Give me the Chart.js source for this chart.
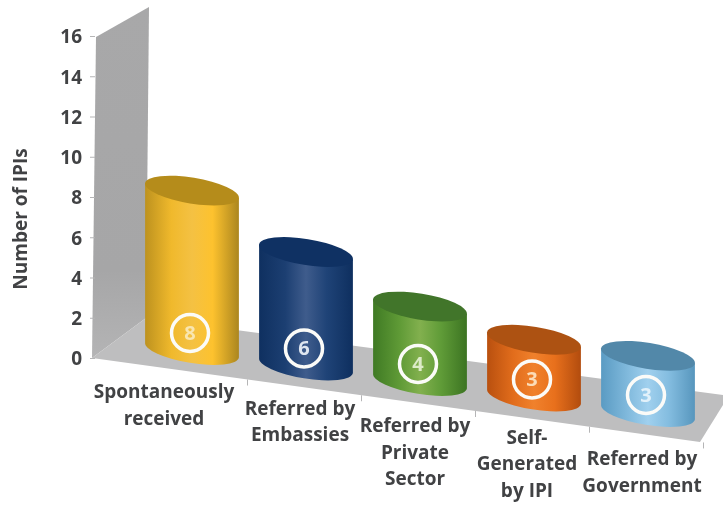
<!DOCTYPE html>
<html>
<head>
<meta charset="utf-8">
<title>Number of IPIs</title>
<script src="https://cdn.jsdelivr.net/npm/chart.js@4"></script>
<style>
  html, body { margin: 0; padding: 0; background: #fff; }
  canvas { display: block; }
</style>
</head>
<body>
<canvas id="chart" width="723" height="506"></canvas>
<script>
const categories = [
  ['Spontaneously', 'received'],
  ['Referred by', 'Embassies'],
  ['Referred by', 'Private', 'Sector'],
  ['Self-', 'Generated', 'by IPI'],
  ['Referred by', 'Government']
];
const ipiCounts = [8, 6, 4, 3, 3];
const axisTicks = [0, 2, 4, 6, 8, 10, 12, 14, 16];
const axisTitle = 'Number of IPIs';

// side gradient stops, lid colour and badge digit colour for each cylinder
const sideStops = [
  ['#bd921f', '#f0b92c', '#f4c143', '#fdc22e', '#ab861f'],
  ['#0f3060', '#1c3f72', '#3f5c8c', '#1f4377', '#0e2f5f'],
  ['#3f7a24', '#5f9a36', '#82b04e', '#609c38', '#3c7422'],
  ['#b9500f', '#e26d1c', '#f0812c', '#e8701c', '#b24c0e'],
  ['#5a9bc3', '#80b9dc', '#a0d0ee', '#84bde0', '#5796bd']
];
const lidColors = ['#b58c1b', '#0f3163', '#41752a', '#ad5212', '#5288a9'];
const digitColors = ['#f9e6b0', '#dfe6f0', '#dcebc8', '#fbdcb8', '#e2f1fa'];

const fontFamily = '"Open Sans", sans-serif';
const labelFont = 'bold 19px ' + fontFamily;
const textColor = '#414244';

// floor and cylinder projection
const floorSlope = 0.136;
const cylA = 47.5, cylB = 13, cylTilt = 0.16;
const depthFactor = [0.99, 0.94, 0.925, 0.94, 0.93];
const labelDx = [-28, -6, -5, -7, -6];
const labelDy = [43, 44, 46, 42, 48];

// tick labels sit a bit high on their baseline, so the scale runs 2px below the drawn wall
const wallLift = 2;

function wallZero(yScale) {
  return yScale.getPixelForValue(0) - wallLift;
}

function floorY(yScale, x) {
  return wallZero(yScale) - 8 + floorSlope * (x - 192);
}

function drawWalls(ctx, yScale) {
  const y0 = wallZero(yScale);
  const yTop = yScale.getPixelForValue(16) - wallLift;

  let g = ctx.createLinearGradient(0, yTop - 30, 0, y0);
  g.addColorStop(0, '#a8a8a9');
  g.addColorStop(0.75, '#a6a6a7');
  g.addColorStop(1, '#b4b4b5');
  ctx.fillStyle = g;
  ctx.beginPath();
  ctx.moveTo(96, yTop + 1);
  ctx.lineTo(149, yTop - 29);
  ctx.lineTo(146, y0 - 40);
  ctx.lineTo(92, y0);
  ctx.closePath();
  ctx.fill();

  ctx.fillStyle = '#bebebf';
  ctx.beginPath();
  ctx.moveTo(92, y0);
  ctx.lineTo(146, y0 - 40);
  ctx.lineTo(723, y0 + 37);
  ctx.lineTo(723, y0 + 47);
  ctx.lineTo(700, y0 + 84);
  ctx.closePath();
  ctx.fill();

  // small tick marks along the wall
  ctx.strokeStyle = '#b5b5b6';
  ctx.lineWidth = 1;
  ctx.beginPath();
  axisTicks.forEach(v => {
    const y = yScale.getPixelForValue(v) - wallLift;
    ctx.moveTo(90, y + 0.5);
    ctx.lineTo(95, y + 0.5);
  });
  ctx.stroke();
}

function drawFloorTicks(ctx, xScale, yScale) {
  const y0 = wallZero(yScale);
  ctx.strokeStyle = '#b5b5b6';
  ctx.lineWidth = 1;
  ctx.beginPath();
  categories.forEach((c, i) => {
    const x = xScale.getPixelForValue(i) + 56;
    const y = y0 + 0.138 * (x - 92);
    ctx.moveTo(x - 1 + 0.5, y);
    ctx.lineTo(x - 1 + 0.5, y + 6);
  });
  ctx.stroke();
}

function drawCylinder(ctx, i, bar, yScale) {
  const x = bar.x;
  const bottom = floorY(yScale, x);
  const top = bottom - (bar.base - bar.y) * depthFactor[i];
  const ex = cylA * Math.cos(cylTilt);
  const ey = cylA * Math.sin(cylTilt);

  const g = ctx.createLinearGradient(x - ex, 0, x + ex, 0);
  sideStops[i].forEach((c, k) => g.addColorStop([0, 0.28, 0.5, 0.72, 1][k], c));
  ctx.fillStyle = g;
  ctx.beginPath();
  ctx.moveTo(x - ex, top - ey);
  ctx.lineTo(x - ex, bottom - ey);
  ctx.ellipse(x, bottom, cylA, cylB, cylTilt, Math.PI, 0, true);
  ctx.lineTo(x + ex, top + ey);
  ctx.closePath();
  ctx.fill();

  ctx.fillStyle = lidColors[i];
  ctx.beginPath();
  ctx.ellipse(x, top, cylA, cylB, cylTilt, 0, Math.PI * 2);
  ctx.fill();

  // value badge
  const bx = x - 2, by = bottom - 17;
  ctx.strokeStyle = '#fbfbf8';
  ctx.lineWidth = 3.5;
  ctx.beginPath();
  ctx.arc(bx, by, 18.5, 0, Math.PI * 2);
  ctx.stroke();
  ctx.fillStyle = digitColors[i];
  ctx.font = 'bold 20px ' + fontFamily;
  ctx.textAlign = 'center';
  ctx.textBaseline = 'middle';
  ctx.fillText(String(ipiCounts[i]), bx, by + 1);
}

function drawCategoryLabels(ctx, xScale, yScale) {
  ctx.fillStyle = textColor;
  ctx.font = labelFont;
  ctx.textAlign = 'center';
  ctx.textBaseline = 'middle';
  categories.forEach((lines, i) => {
    const x = xScale.getPixelForValue(i);
    const y = floorY(yScale, x) + labelDy[i];
    lines.forEach((line, k) => ctx.fillText(line, x + labelDx[i], y + k * 26.5));
  });
}

const scenePlugin = {
  id: 'scene',
  beforeDatasetsDraw(chart) {
    const { ctx, scales } = chart;
    ctx.save();
    drawWalls(ctx, scales.y);
    drawFloorTicks(ctx, scales.x, scales.y);
    drawCategoryLabels(ctx, scales.x, scales.y);
    ctx.restore();
  },
  // the cylinders replace the flat bars
  beforeDatasetDraw(chart, args) {
    const { ctx, scales } = chart;
    ctx.save();
    args.meta.data.forEach((bar, i) => drawCylinder(ctx, i, bar, scales.y));
    ctx.restore();
    return false;
  },
  afterDraw(chart) {
    const { ctx } = chart;
    ctx.save();
    ctx.translate(22, 219);
    ctx.rotate(-Math.PI / 2);
    ctx.fillStyle = textColor;
    ctx.font = labelFont;
    ctx.textAlign = 'center';
    ctx.textBaseline = 'middle';
    ctx.fillText(axisTitle, 0, 0);
    ctx.restore();
  }
};

new Chart(document.getElementById('chart'), {
  type: 'bar',
  data: {
    labels: categories,
    datasets: [{ label: axisTitle, data: ipiCounts }]
  },
  plugins: [scenePlugin],
  options: {
    responsive: false,
    animation: false,
    layout: { padding: { top: 38, right: 18, bottom: 146, left: 0 } },
    plugins: { legend: { display: false }, tooltip: { enabled: false } },
    scales: {
      x: { display: false },
      y: {
        min: 0,
        max: 16,
        // the wide tick padding only pushes labels left, it shouldn't inset the plot
        afterFit(scale) {
          scale.width = 135;
          scale.paddingTop = 0;
          scale.paddingBottom = 0;
        },
        grid: { display: false, drawTicks: false },
        border: { display: false },
        ticks: {
          stepSize: 2,
          padding: 53,
          color: textColor,
          font: { family: fontFamily, size: 19, weight: 'bold' }
        }
      }
    }
  }
});
</script>
</body>
</html>
